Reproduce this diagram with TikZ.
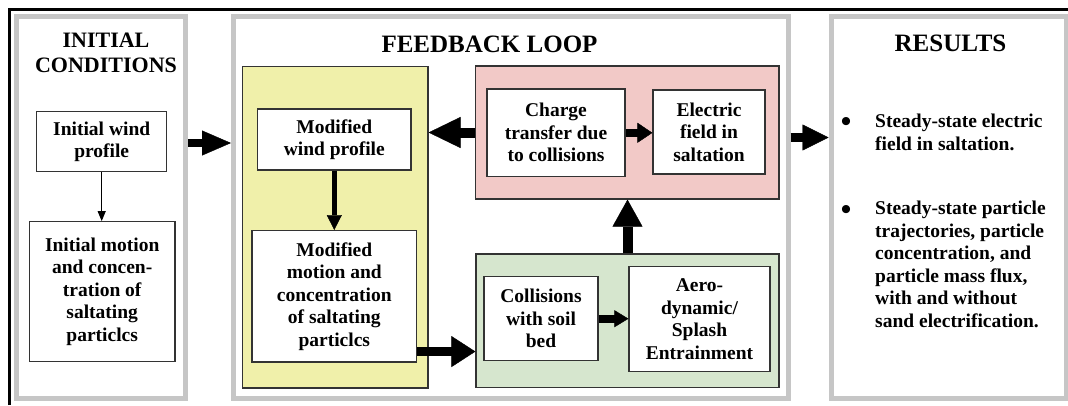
\documentclass[tikz,border=0pt]{standalone}
\usepackage{fontspec}
\setmainfont{Liberation Serif}
\usetikzlibrary{arrows.meta,calc}
\definecolor{grayline}{HTML}{C6C6C6}
\definecolor{yel}{HTML}{F0F0AA}
\definecolor{pnk}{HTML}{F2C9C7}
\definecolor{grn}{HTML}{D6E6CE}
\definecolor{edge}{HTML}{333333}
\newcommand{\bodyfnt}{\fontsize{19.5}{22.5}\selectfont\bfseries}
\newcommand{\titlefnt}{\fontsize{25}{27}\selectfont\bfseries}
\newcommand{\smalltitlefnt}{\fontsize{22}{25}\selectfont\bfseries}
\newcommand{\bulletfnt}{\fontsize{30}{30}\selectfont\bfseries}
\begin{document}
\begin{tikzpicture}[x=1pt,y=-1pt,
  panel/.style={draw=grayline,line width=5pt,fill=white,inner sep=0pt},
  region/.style={draw=edge,line width=1.2pt,inner sep=0pt},
  wbox/.style={draw=edge,line width=1.2pt,fill=white,align=center,inner sep=2pt,font=\bodyfnt},
  ttl/.style={align=center,inner sep=0pt},
  bodytext/.style={align=left,inner sep=0pt,font=\bodyfnt},
  bul/.style={inner sep=0pt,font=\bulletfnt},
  fatarrow/.style n args={3}{line width=#1,-{Triangle[length=#2,width=#3,line width=0.4pt]}},
  thinarrow/.style={line width=1pt,-{Triangle[length=10pt,width=8pt]}}
]
\useasboundingbox (0,0) rectangle (1068,405);
\fill[white] (0,0) rectangle (1068,405);
% outer black frame (top and left)
\coordinate (fTL) at (9.5,9.5);
\coordinate (fTR) at (1068,9.5);
\coordinate (fBL) at (9.5,405);
\draw[line width=3pt] (fBL) -- (fTL) -- (fTR);
% panels
\node[panel,minimum width=169.5pt,minimum height=381.5pt] (init) at (100.75,207.25) {};
\node[panel,minimum width=554.5pt,minimum height=381.5pt] (fb) at (510.75,207.25) {};
\node[panel,minimum width=235pt,minimum height=381.5pt] (res) at (948.5,207.25) {};
% titles
\node[ttl,font=\smalltitlefnt] (tinit) at (106,52.5) {INITIAL\\CONDITIONS};
\node[ttl,font=\titlefnt] (tfb) at (489.5,44) {FEEDBACK LOOP};
\node[ttl,font=\titlefnt] (tres) at (950.5,43) {RESULTS};
% initial conditions
\node[wbox,minimum width=130pt,minimum height=60pt] (iwind) at (101.7,141.7) {Initial wind\\profile};
\node[wbox,minimum width=145.7pt,minimum height=140pt] (imotion) at (102.2,291.7) {Initial motion\\and concen-\\tration of\\saltating\\particlcs};
% colored regions
\node[region,fill=yel,minimum width=185.3pt,minimum height=321.3pt] (yellow) at (335.3,227.3) {};
\node[region,fill=pnk,minimum width=303.3pt,minimum height=133pt] (pink) at (627.3,132.5) {};
\node[region,fill=grn,minimum width=303pt,minimum height=133.3pt] (green) at (627.5,320.7) {};
% inner boxes
\node[wbox,minimum width=153.3pt,minimum height=61pt] (mwind) at (334.3,139.5) {Modified\\wind profile};
\node[wbox,minimum width=164.7pt,minimum height=131.3pt] (mmotion) at (334.3,296.3) {Modified\\motion and\\concentration\\of saltating\\particlcs};
\node[wbox,minimum width=138pt,minimum height=87.7pt] (charge) at (556,132.8) {Charge\\transfer due\\to collisions};
\node[wbox,minimum width=112pt,minimum height=84pt] (efield) at (709,132) {Electric\\field in\\saltation};
\node[wbox,minimum width=114pt,minimum height=84pt] (coll) at (541,318.7) {Collisions\\with soil\\bed};
\node[wbox,minimum width=141pt,minimum height=105pt] (aero) at (699.5,319.2) {Aero-\\dynamic/\\Splash\\Entrainment};
% results text
\node[bul] (b1) at (846,125) {•};
\node[bodytext,anchor=north west] (r1) at (875,114) {Steady-state electric\\field in saltation.};
\node[bul] (b2) at (846,212) {•};
\node[bodytext,anchor=north west] (r2) at (875,201) {Steady-state particle\\trajectories, particle\\concentration, and\\particle mass flux,\\with and without\\sand electrification.};
% connectors
\draw[thinarrow] (iwind.south) -- (iwind.south |- imotion.north);
\draw[fatarrow={8pt}{29pt}{25pt}] ([yshift=-1.3pt]iwind.east -| init.east) -- ([yshift=-1.3pt]iwind.east -| fb.west);
\draw[fatarrow={9pt}{26pt}{26pt}] ([yshift=-5.5pt]efield.east -| fb.east) -- ([yshift=-5.5pt]efield.east -| res.west);
\draw[fatarrow={10pt}{32pt}{31pt}] (pink.west) -- (pink.west -| yellow.east);
\draw[fatarrow={5pt}{15pt}{15pt}] (mwind.south) -- (mwind.south |- mmotion.north);
\coordinate (p5) at ($(mmotion.south east)+(0,-11)$);
\draw[fatarrow={9pt}{24pt}{31pt}] (p5) -- (p5 -| green.west);
\draw[fatarrow={10pt}{27pt}{30pt}] (green.north) -- (green.north |- pink.south);
\draw[fatarrow={8pt}{15pt}{20pt}] (charge.east) -- (charge.east -| efield.west);
\draw[fatarrow={8pt}{14pt}{17pt}] (coll.east) -- (coll.east -| aero.west);
\end{tikzpicture}
\end{document}
